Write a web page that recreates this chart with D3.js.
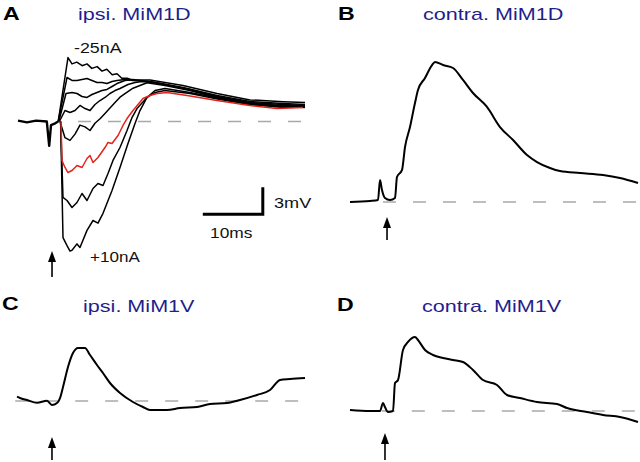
<!DOCTYPE html>
<html><head><meta charset="utf-8">
<script src="https://cdn.jsdelivr.net/npm/d3@7"></script>
<style>
html,body{margin:0;padding:0;background:#fff;}
svg{display:block;font-family:"Liberation Sans",Arial,sans-serif;}
</style></head>
<body><svg id="c" width="640" height="462"></svg>
<script>
// ---- DATA (time in ms, potential in mV relative to baseline) ----
const panelLetters = ["A","B","C","D"];
const panelTitles = ["ipsi. MiM1D","contra. MiM1D","ipsi. MiM1V","contra. MiM1V"];
const currentLabels = ["-25nA","+10nA"];
const scaleBarLabels = ["10ms","3mV"];
const scaleBarValues = [10, 3];
const stimTimes = [5.67, 6.17, 5.83, 5.83];

const aBaseline = [[0,0.1],[1.5,-0.1],[3,0.1],[4.8,0],[5.2,-2.7],[5.5,-0.4],[6.2,-0.2],[6.7,0]];
const aTrace1 = [[6.7,0],[8.33,7.1],[9.0,6.4],[9.8,6.6],[10.7,6.2],[11.5,6.4],[12.3,5.9],[13.2,6.1],[14.0,5.6],[14.8,5.8],[15.7,5.2],[16.5,5.3],[17.3,4.8],[18.2,4.8],[19.2,4.6],[22.0,4.6],[27.5,4.0],[33.17,3.1],[38.67,2.4],[44.17,2.2],[47.83,2.1]];
const aTrace2 = [[6.7,0],[8.17,4.89],[9.0,4.56],[9.83,4.56],[10.67,4.67],[11.5,4.78],[12.33,4.56],[13.17,4.33],[14.0,4.33],[14.83,4.22],[15.67,4.44],[16.5,4.56],[17.83,4.67],[19.17,4.56],[22,4.44],[27.5,3.78],[33.17,2.89],[38.67,2.22],[44.17,2.0],[47.83,1.89]];
const aTrace3 = [[6.8,0],[8.0,3.11],[9.0,3.22],[9.83,3.11],[10.67,2.78],[11.5,2.67],[12.33,3.0],[13.17,3.22],[14.0,3.44],[14.83,3.56],[15.67,3.89],[16.5,4.22],[17.83,4.56],[19.17,4.67],[20.33,4.56],[22.83,4.33],[27.5,3.67],[33.17,2.78],[38.67,2.11],[44.17,1.89],[47.83,1.78]];
const aTrace4 = [[6.9,0],[7.83,1.22],[8.67,1.0],[9.5,1.22],[10.33,1.78],[11.17,1.44],[12.0,1.22],[12.83,1.89],[13.67,2.33],[14.5,2.67],[15.33,3.11],[16.17,3.44],[17.0,3.67],[18.33,4.11],[19.5,4.33],[20.67,4.44],[23.67,4.22],[28.67,3.56],[33.67,2.67],[38.67,2.0],[44.17,1.78],[47.83,1.67]];
const aTrace5 = [[7.0,0],[7.83,-1.8],[8.67,-2.1],[9.5,-1.4],[10.33,-0.4],[11.17,-0.6],[12.0,-1.0],[12.83,-0.2],[13.67,0.3],[14.5,0.9],[15.33,1.5],[16.17,2.1],[17.0,2.7],[17.83,3.1],[19.17,3.7],[20.33,4.0],[21.5,4.3],[24.5,4.0],[28.67,3.44],[33.67,2.56],[38.67,1.89],[44.17,1.67],[47.83,1.78]];
const aTrace7 = [[7.1,0],[7.5,-8.44],[8.17,-8.78],[9.0,-9.56],[9.83,-9.0],[10.67,-8.0],[11.5,-8.78],[12.5,-7.44],[13.33,-6.89],[14.17,-7.11],[15.0,-5.78],[15.83,-4.33],[17.0,-2.89],[18.17,-1.0],[19.0,0.44],[19.83,1.44],[21.5,2.67],[22.83,3.22],[24.5,3.44],[28.67,3.11],[33.67,2.44],[38.67,1.89],[44.17,1.56],[47.83,1.67]];
const aTrace8 = [[7.1,0],[7.5,-12.9],[8.17,-13.8],[8.67,-14.4],[9.0,-14.3],[9.83,-13.6],[10.33,-14.0],[11.5,-12.1],[12.5,-11.0],[13.33,-11.3],[14.17,-10.2],[15.67,-7.67],[17.0,-5.11],[18.33,-2.44],[19.5,-0.22],[20.33,1.22],[21.5,2.67],[22.83,3.44],[24.5,3.67],[28.67,3.22],[33.67,2.56],[38.67,2.0],[44.17,1.67],[47.83,1.56]];
const aTraceRed = [[7.17,0],[7.33,-4.33],[7.83,-5.11],[8.33,-5.67],[9.0,-5.44],[9.83,-4.89],[10.67,-5.11],[11.5,-4.11],[12.0,-3.78],[12.5,-4.56],[13.33,-4.0],[14.5,-2.89],[15.0,-2.33],[15.67,-2.44],[16.67,-1.56],[17.5,-0.44],[18.17,0.33],[19.17,1.22],[20.83,2.56],[22.0,2.89],[23.17,3.11],[24.83,3.22],[28.17,2.89],[33.17,2.33],[38.67,1.78],[43.17,1.44],[47.5,1.56]];

const bTrace = [[0,0],[3.33,0.11],[4.67,0.22],[5.0,2.44],[5.33,1.33],[5.83,0.44],[6.67,0.22],[7.5,0.44],[7.83,2.78],[8.67,3.56],[9.17,6.11],[10.0,8.33],[10.83,11.0],[11.33,12.44],[12.5,13.78],[13.67,15.22],[14.17,15.56],[15.5,15.22],[17.17,14.89],[18.83,13.56],[20.5,12.11],[22.83,10.56],[25.0,8.33],[27.17,6.89],[29.5,5.22],[31.17,4.44],[33.33,3.78],[35.0,3.44],[38.33,3.22],[42.17,3.0],[45.0,2.67],[48.0,2.11]];
const cTrace = [[0,0.48],[0.5,0.33],[1.67,0.11],[3.33,-0.19],[5.0,0.03],[5.83,-0.44],[6.67,-0.22],[7.17,0.33],[7.67,1.56],[8.5,3.78],[9.33,5.33],[10.17,5.89],[11.33,5.89],[12.17,5.11],[13.33,4.0],[14.33,3.11],[15.5,2.0],[17.17,0.89],[19.33,-0.11],[21.0,-0.67],[22.17,-1.0],[25.0,-1.0],[27.17,-0.78],[30.0,-0.67],[32.17,-0.33],[35.0,-0.22],[37.17,0.11],[40.0,0.67],[42.17,1.22],[43.83,2.33],[45.5,2.44],[48.0,2.56]];
const dTrace = [[0,0.11],[3.33,0],[5.0,0],[5.5,0.89],[5.83,0.44],[6.33,-0.11],[7.17,0],[7.5,3.11],[8.0,3.44],[8.83,6.78],[9.67,7.67],[10.83,8.22],[11.33,7.89],[12.5,6.78],[13.83,6.22],[15.5,5.89],[17.17,5.67],[18.83,5.44],[20.5,4.56],[22.17,3.44],[24.5,2.89],[26.17,1.78],[28.33,1.44],[31.17,1.0],[34.5,0.78],[36.17,0.33],[39.5,-0.11],[42.17,-0.44],[45.0,-0.67],[48.0,-1.22]];

// ---- LAYOUT ----
const svg = d3.select("#c");
const MS = 6, MV = 9; // px per ms, px per mV
function mkScales(x0, y0){
  return {
    x: d3.scaleLinear().domain([0,48]).range([x0, x0+48*MS]),
    y: d3.scaleLinear().domain([0,1]).range([y0, y0-MV])
  };
}
const panels = [
  {s: mkScales(18,121.5),  dash:[10,47.8], traces:[[aTrace1,"#000"],[aTrace2,"#000"],[aTrace3,"#000"],[aTrace4,"#000"],[aTrace5,"#000"],[aTrace7,"#000"],[aTrace8,"#000"],[aTraceRed,"#e3231b"],[aBaseline,"#000"]], sw:1.5, curve:d3.curveLinear, arrow:[251,277], letter:[3,20], title:[78,20]},
  {s: mkScales(350,202),   dash:[5.5,48.3], traces:[[bTrace,"#000"]], sw:2, curve:d3.curveMonotoneX, arrow:[217,240], letter:[338,19.5], title:[423,20]},
  {s: mkScales(17,401),    dash:[-0.3,48.3], traces:[[cTrace,"#000"]], sw:2, curve:d3.curveMonotoneX, arrow:[437,460], letter:[2,310], title:[83,312]},
  {s: mkScales(350,411),   dash:[5.3,48.3], traces:[[dTrace,"#000"]], sw:2, curve:d3.curveMonotoneX, arrow:[433,460], letter:[337,311], title:[422,312]}
];

function stretchText(x, y, txt, size, weight, color, sx){
  svg.append("text")
    .attr("transform", `translate(${x},${y}) scale(${sx},1)`)
    .attr("font-size", size).attr("font-weight", weight)
    .attr("fill", color).text(txt);
}

panels.forEach((p, i) => {
  const {x, y} = p.s;
  svg.append("line")
    .attr("x1", x(p.dash[0])).attr("x2", x(p.dash[1]))
    .attr("y1", y(0)).attr("y2", y(0))
    .attr("stroke", "#a9a9a9").attr("stroke-width", 1.6)
    .attr("stroke-dasharray", "13,17");
  const line = d3.line().x(d => x(d[0])).y(d => y(d[1])).curve(p.curve);
  p.traces.forEach(([data, col]) => {
    svg.append("path").attr("d", line(data))
      .attr("fill", "none").attr("stroke", col)
      .attr("stroke-width", data === aBaseline ? 2.4 : p.sw)
      .attr("stroke-linejoin", "round");
  });
  const ax = x(stimTimes[i]);
  const [ay0, ay1] = p.arrow;
  svg.append("line").attr("x1", ax).attr("x2", ax).attr("y1", ay0 + 6).attr("y2", ay1)
    .attr("stroke", "#000").attr("stroke-width", 1.6);
  svg.append("path").attr("d", `M${ax},${ay0} L${ax-4},${ay0+11} L${ax+4},${ay0+11} Z`).attr("fill", "#000");
  stretchText(p.letter[0], p.letter[1], panelLetters[i], 18.5, "bold", "#000", 1.25);
  stretchText(p.title[0], p.title[1], panelTitles[i], 17, "normal", "#1f1f8c", 1.27);
});

const sA = panels[0].s;
stretchText(74, 53, currentLabels[0], 15.5, "normal", "#111", 1.15);
stretchText(90, 262, currentLabels[1], 15.5, "normal", "#111", 1.1);
const sbT0 = 30.8, sbV0 = -10.3;
svg.append("path")
  .attr("d", `M${sA.x(sbT0)},${sA.y(sbV0)} L${sA.x(sbT0+scaleBarValues[0])},${sA.y(sbV0)} L${sA.x(sbT0+scaleBarValues[0])},${sA.y(sbV0+scaleBarValues[1])}`)
  .attr("fill", "none").attr("stroke", "#000").attr("stroke-width", 3).attr("stroke-linejoin", "miter");
stretchText(210, 238, scaleBarLabels[0], 15.5, "normal", "#111", 1.12);
stretchText(274, 208, scaleBarLabels[1], 15.5, "normal", "#111", 1.17);
</script></body></html>
